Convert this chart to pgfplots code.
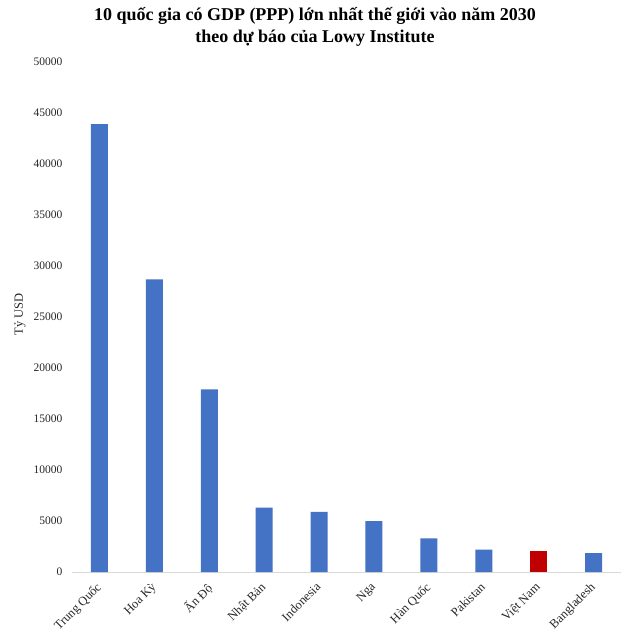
\documentclass[border=0pt]{standalone}
\usepackage{fontspec}
\setmainfont{Liberation Serif}
\usepackage{pgfplots}
\pgfplotsset{compat=1.18}
\definecolor{barblue}{HTML}{4472C4}
\definecolor{barred}{HTML}{C00000}
\definecolor{axisgrey}{HTML}{D9D9D9}
\begin{document}
\begin{tikzpicture}
% frame of the whole picture, 1px = 1pt, axis bottom-left at origin
\path[use as bounding box] (-72pt,-64pt) rectangle (558pt,572pt);
\begin{axis}[
    at={(0pt,0pt)}, anchor=south west,
    scale only axis,
    width=549pt, height=510pt,
    xmin=-0.5, xmax=9.5,
    ymin=0, ymax=50000,
    ytick={0,5000,...,50000},
    xtick={0,...,9},
    xticklabels={Trung Quốc,Hoa Kỳ,Ấn Độ,Nhật Bản,Indonesia,Nga,Hàn Quốc,Pakistan,Việt Nam,Bangladesh},
    axis x line*=bottom,
    axis y line*=left,
    x axis line style={axisgrey, -},
    y axis line style={draw=none},
    major tick length=0pt,
    scaled y ticks=false,
    /pgf/number format/assume math mode=true,
    yticklabel={\pgfmathprintnumber[fixed,1000 sep={}]{\tick}},
    yticklabel style={font=\fontsize{11.5}{13}\selectfont, anchor=east, xshift=-6pt, text=black!85},
    xticklabel style={font=\fontsize{12.5}{14}\selectfont, xshift=-4pt, yshift=-8pt, rotate=45, anchor=north east, inner sep=1pt, text=black!85},
    ylabel={Tỷ USD},
    ylabel style={font=\fontsize{12.5}{14}\selectfont, at={(axis description cs:-0.0947,0.505)}, anchor=center, text=black!85},
    title={\textbf{10 quốc gia có GDP (PPP) lớn nhất thế giới vào năm 2030}\\\textbf{theo dự báo của Lowy Institute}},
    title style={font=\fontsize{18}{22}\selectfont, at={(axis description cs:0.4426,1)}, anchor=center, yshift=29pt, align=center},
    ybar, bar width=17pt, bar shift=0pt,
    clip=false,
]
\addplot[fill=barblue, draw=none] coordinates {
    (0,43900) (1,28700) (2,17900) (3,6300) (4,5900) (5,5000) (6,3300) (7,2200) (9,1850)
};
\addplot[fill=barred, draw=none] coordinates {
    (8,2050)
};
\end{axis}
\end{tikzpicture}
\end{document}
